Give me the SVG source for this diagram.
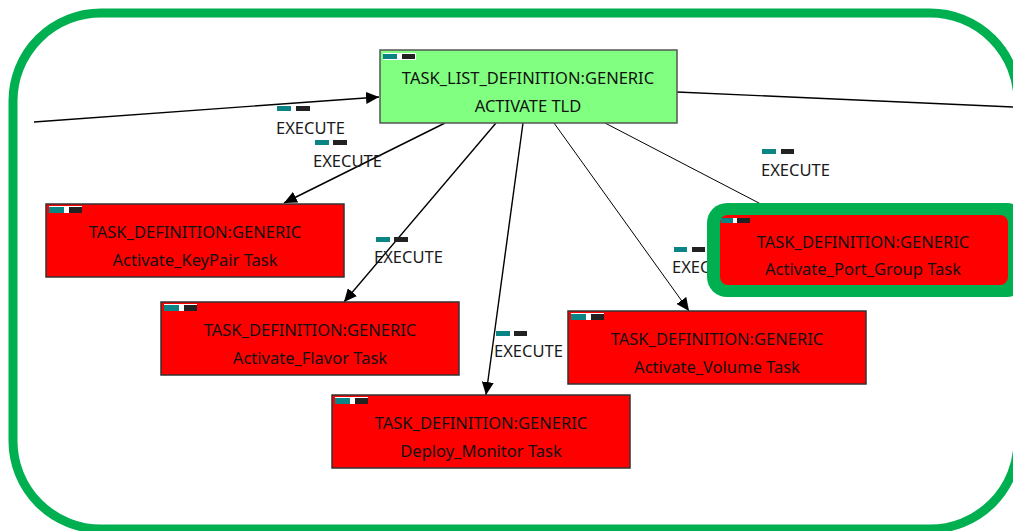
<svg xmlns="http://www.w3.org/2000/svg" width="1013" height="531" viewBox="0 0 1013 531">
  <defs>
    <marker id="arrow" markerUnits="userSpaceOnUse" markerWidth="14" markerHeight="12" refX="13" refY="6" orient="auto">
      <path d="M0,0 L13,6 L0,12 Z" fill="#000"/>
    </marker>
    <style>
      .frame { fill: none; stroke: #00B050; stroke-width: 9; }
      .edge { fill: none; stroke: #000; stroke-width: 1.4; }
      .edge-thin { fill: none; stroke: #000; stroke-width: 1; }
      .task { fill: #FF0000; stroke: #333; stroke-width: 1.5; }
      .tld { fill: #80FF80; stroke: #555; stroke-width: 1.5; }
      .txt { font-family: "Noto Sans", "Open Sans", sans-serif; font-size: 16.5px; fill: #111; text-anchor: middle; }
      .lbl { font-family: "Noto Sans", "Open Sans", sans-serif; font-size: 16.5px; fill: #1a1a1a; }
      .teal { fill: #0A8484; }
      .blk { fill: #222; }
      .iconbg { fill: #fff; }
    </style>
  </defs>

  <rect width="1013" height="531" fill="#fff"/>

  <!-- outer frame -->
  <rect class="frame" x="13" y="13" width="1005" height="516" rx="88" ry="88"/>

  <!-- connectors -->
  <g id="connectors">
    <path class="edge" d="M34,122 L379,97" marker-end="url(#arrow)"/>
    <path class="edge" d="M677,92 L1013,107"/>
    <path class="edge" d="M445,123 L284,203" marker-end="url(#arrow)"/>
    <path class="edge" d="M496,123 L344,302" marker-end="url(#arrow)"/>
    <path class="edge" d="M523,123 L486,395" marker-end="url(#arrow)"/>
    <path class="edge-thin" d="M554,123 L689,311" marker-end="url(#arrow)"/>
    <path class="edge-thin" d="M605,123 L780,214" marker-end="url(#arrow)"/>

    <!-- edge labels -->
    <g id="lbl1"><rect class="teal" x="277" y="106" width="14" height="5"/><rect class="blk" x="296" y="106" width="14" height="5"/><text class="lbl" x="276" y="134">EXECUTE</text></g>
    <g id="lbl2"><rect class="teal" x="315" y="140" width="14" height="5"/><rect class="blk" x="333" y="140" width="14" height="5"/><text class="lbl" x="313" y="167">EXECUTE</text></g>
    <g id="lbl3"><rect class="teal" x="376" y="237" width="14" height="5"/><rect class="blk" x="394" y="237" width="14" height="5"/><text class="lbl" x="374" y="263">EXECUTE</text></g>
    <g id="lbl4"><rect class="teal" x="496" y="331" width="14" height="5"/><rect class="blk" x="514" y="331" width="13" height="5"/><text class="lbl" x="494" y="357">EXECUTE</text></g>
    <g id="lbl5"><rect class="teal" x="674" y="247" width="13" height="5"/><rect class="blk" x="692" y="247" width="13" height="5"/><text class="lbl" x="672" y="273">EXECUTE</text></g>
    <g id="lbl6"><rect class="teal" x="762" y="149" width="14" height="5"/><rect class="blk" x="781" y="149" width="13" height="5"/><text class="lbl" x="761" y="176">EXECUTE</text></g>
  </g>

  <!-- task list node -->
  <g id="tld">
    <rect class="tld" x="380" y="50" width="297" height="73"/>
    <rect class="iconbg" x="383" y="53" width="33" height="7"/>
    <rect class="teal" x="383" y="54" width="14" height="5"/>
    <rect class="blk" x="402" y="54" width="13" height="5"/>
    <text class="txt" x="528" y="84">TASK_LIST_DEFINITION:GENERIC</text>
    <text class="txt" x="528" y="112">ACTIVATE TLD</text>
  </g>

  <g id="keypair">
    <rect class="task" x="46" y="204" width="298" height="73"/>
    <rect class="iconbg" x="49" y="206" width="33" height="7"/>
    <rect class="teal" x="49" y="207" width="15" height="6"/>
    <rect class="blk" x="69" y="207" width="13" height="6"/>
    <text class="txt" x="195" y="238">TASK_DEFINITION:GENERIC</text>
    <text class="txt" x="195" y="266">Activate_KeyPair Task</text>
  </g>

  <g id="flavor">
    <rect class="task" x="161" y="302" width="298" height="73"/>
    <rect class="iconbg" x="164" y="304" width="33" height="7"/>
    <rect class="teal" x="164" y="305" width="15" height="6"/>
    <rect class="blk" x="184" y="305" width="13" height="6"/>
    <text class="txt" x="310" y="336">TASK_DEFINITION:GENERIC</text>
    <text class="txt" x="310" y="364">Activate_Flavor Task</text>
  </g>

  <g id="monitor">
    <rect class="task" x="332" y="395" width="298" height="73"/>
    <rect class="iconbg" x="335" y="397" width="33" height="7"/>
    <rect class="teal" x="335" y="398" width="15" height="6"/>
    <rect class="blk" x="355" y="398" width="13" height="6"/>
    <text class="txt" x="481" y="429">TASK_DEFINITION:GENERIC</text>
    <text class="txt" x="481" y="457">Deploy_Monitor Task</text>
  </g>

  <g id="volume">
    <rect class="task" x="568" y="311" width="298" height="73"/>
    <rect class="iconbg" x="571" y="313" width="33" height="7"/>
    <rect class="teal" x="571" y="314" width="15" height="6"/>
    <rect class="blk" x="591" y="314" width="13" height="6"/>
    <text class="txt" x="717" y="345">TASK_DEFINITION:GENERIC</text>
    <text class="txt" x="717" y="373">Activate_Volume Task</text>
  </g>

  <g id="portgroup">
    <rect x="707" y="203" width="320" height="94" rx="20" ry="20" fill="#00B050"/>
    <rect x="720" y="215" width="288" height="70" rx="8" ry="8" fill="#FF0000"/>
    <rect class="teal" x="721" y="218" width="12" height="5"/>
    <rect class="iconbg" x="733" y="218" width="4" height="5"/>
    <rect class="blk" x="737" y="218" width="13" height="5"/>
    <text class="txt" x="863" y="248">TASK_DEFINITION:GENERIC</text>
    <text class="txt" x="863" y="275">Activate_Port_Group Task</text>
  </g>
</svg>
